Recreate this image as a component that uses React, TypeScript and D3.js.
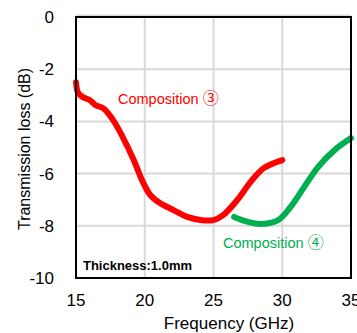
import React from "react";
import * as d3 from "d3";

const xTicks = [15, 20, 25, 30, 35];
const yTicks = [0, -2, -4, -6, -8, -10];

// Composition ③ (red)
const redFreq = [15.0, 15.15, 15.5, 16.0, 16.4, 17.0, 17.7, 18.4, 19.2, 19.8, 20.4, 21.1, 22.1, 23.1, 24.05, 25.0, 25.7, 26.75, 27.7, 28.65, 30.0];
const redLoss = [-2.5, -2.9, -3.07, -3.18, -3.37, -3.5, -3.95, -4.6, -5.48, -6.25, -6.82, -7.13, -7.4, -7.66, -7.78, -7.78, -7.59, -7.0, -6.32, -5.79, -5.48];

// Composition ④ (green)
const greenFreq = [26.5, 27.5, 28.4, 29.7, 30.6, 31.6, 32.6, 33.8, 35.0];
const greenLoss = [-7.66, -7.85, -7.93, -7.78, -7.28, -6.51, -5.75, -5.1, -4.64];

const W = 357;
const H = 333;
const left = 76;
const right = 351;
const top = 17;
const bottom = 278;
const font = "Liberation Sans, Arial, sans-serif";
const cjk = "Noto Sans CJK JP, DejaVu Sans, sans-serif";

export default function App() {
  const x = d3.scaleLinear().domain([15, 35]).range([left, right]);
  const y = d3.scaleLinear().domain([0, -10]).range([top, bottom]);

  const line = d3
    .line<[number, number]>()
    .x((d) => x(d[0]))
    .y((d) => y(d[1]))
    .curve(d3.curveCatmullRom.alpha(0.5));

  const red = redFreq.map((f, i) => [f, redLoss[i]] as [number, number]);
  const green = greenFreq.map((f, i) => [f, greenLoss[i]] as [number, number]);

  return (
    <svg width={W} height={H} style={{ position: "absolute", left: 0, top: 0, background: "#fff" }}>
      {/* grid */}
      {yTicks.slice(0, -1).map((t) => (
        <line key={"gy" + t} x1={left} x2={right} y1={y(t) - (t === 0 ? 1.5 : 0)} y2={y(t) - (t === 0 ? 1.5 : 0)} stroke="#d9d9d9" strokeWidth={2} />
      ))}
      {xTicks.slice(1, -1).map((t) => (
        <line key={"gx" + t} x1={x(t)} x2={x(t)} y1={top} y2={bottom} stroke="#d9d9d9" strokeWidth={2} />
      ))}

      {/* curves */}
      <path d={line(red) ?? ""} fill="none" stroke="#ff0000" strokeWidth={6} strokeLinecap="round" strokeLinejoin="round" />
      <path d={line(green) ?? ""} fill="none" stroke="#00b050" strokeWidth={6} strokeLinecap="round" strokeLinejoin="round" />

      {/* frame */}
      <rect x={left} y={top} width={right - left} height={bottom - top} fill="none" stroke="#000" strokeWidth={2} />

      {/* tick labels */}
      {yTicks.map((t) => (
        <text key={"ty" + t} x={54} y={y(t)} dy="0.35em" textAnchor="end" fontFamily={font} fontSize={17} fill="#000">
          {t}
        </text>
      ))}
      {xTicks.map((t) => (
        <text key={"tx" + t} x={x(t)} y={306} textAnchor="middle" fontFamily={font} fontSize={17} fill="#000">
          {t}
        </text>
      ))}

      {/* axis titles */}
      <text x={229} y={329} textAnchor="middle" fontFamily={font} fontSize={17} fill="#000">
        Frequency (GHz)
      </text>
      <text transform="translate(30,149) rotate(-90)" textAnchor="middle" fontFamily={font} fontSize={16} fill="#000">
        Transmission loss (dB)
      </text>

      {/* annotations */}
      <text x={118} y={104} fontFamily={font} fontSize={14.5} fill="#ff0000">
        Composition <tspan fontFamily={cjk} fontSize={16}>③</tspan>
      </text>
      <text x={223} y={248} fontFamily={font} fontSize={14.5} fill="#00b050">
        Composition <tspan fontFamily={cjk} fontSize={16}>④</tspan>
      </text>
      <text x={83} y={270} fontFamily={font} fontSize={13} fontWeight="bold" fill="#000" textLength={109} lengthAdjust="spacingAndGlyphs">
        Thickness:1.0mm
      </text>
    </svg>
  );
}
